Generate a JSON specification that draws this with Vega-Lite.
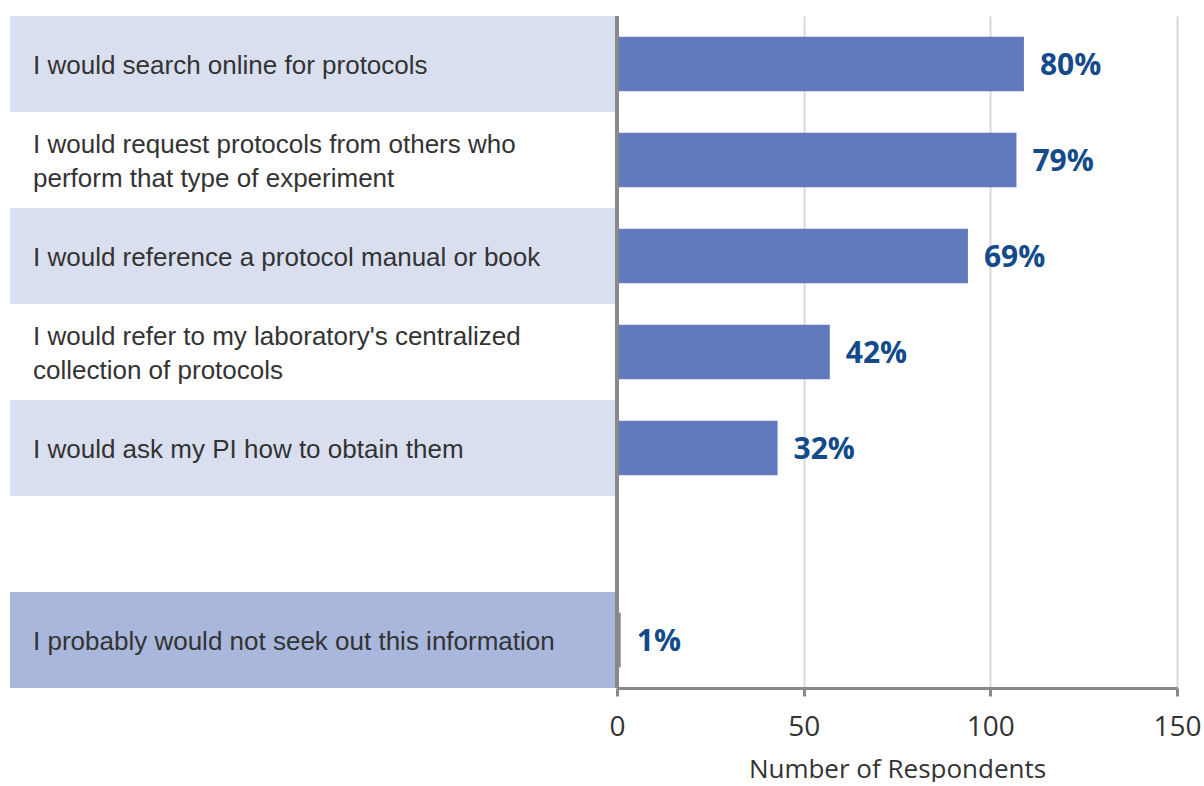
{
  "$schema": "https://vega.github.io/schema/vega-lite/v6.json",
  "padding": {"left": 10, "top": 14, "right": 0, "bottom": 0},
  "background": "white",
  "config": {"view": {"stroke": null}},
  "spacing": -7,
  "datasets": {
    "rows": [
      {"row": 1, "label": "I would search online for protocols", "n": 109, "pct": 0.80},
      {"row": 2, "label": "I would request protocols from others who\nperform that type of experiment", "n": 107, "pct": 0.79},
      {"row": 3, "label": "I would reference a protocol manual or book", "n": 94, "pct": 0.69},
      {"row": 4, "label": "I would refer to my laboratory's centralized\ncollection of protocols", "n": 57, "pct": 0.42},
      {"row": 5, "label": "I would ask my PI how to obtain them", "n": 43, "pct": 0.32},
      {"row": 7, "label": "I probably would not seek out this information", "n": 1, "pct": 0.01}
    ]
  },
  "hconcat": [
    {
      "width": 605,
      "height": 672,
      "data": {"name": "rows"},
      "layer": [
        {
          "transform": [{"filter": "datum.row == 1 || datum.row == 3 || datum.row == 5"}],
          "mark": {"type": "rect", "color": "#d9dfee"},
          "encoding": {
            "y": {"field": "row", "type": "ordinal", "scale": {"domain": [1, 2, 3, 4, 5, 6, 7], "paddingInner": 0, "paddingOuter": 0}, "axis": null},
            "x": {"datum": 0, "type": "quantitative", "scale": {"domain": [0, 1], "nice": false}, "axis": null},
            "x2": {"datum": 1}
          }
        },
        {
          "transform": [{"filter": "datum.row == 7"}],
          "mark": {"type": "rect", "color": "#a8b7db"},
          "encoding": {
            "y": {"field": "row", "type": "ordinal", "scale": {"domain": [1, 2, 3, 4, 5, 6, 7], "paddingInner": 0, "paddingOuter": 0}, "axis": null},
            "x": {"datum": 0, "type": "quantitative", "scale": {"domain": [0, 1], "nice": false}, "axis": null},
            "x2": {"datum": 1}
          }
        },
        {
          "transform": [{"filter": "datum.row != 2 && datum.row != 4"}],
          "mark": {"type": "text", "align": "left", "baseline": "middle", "dx": 23, "dy": 2, "font": "Liberation Sans", "fontSize": 26, "color": "#333333"},
          "encoding": {
            "y": {"field": "row", "type": "ordinal", "scale": {"domain": [1, 2, 3, 4, 5, 6, 7], "paddingInner": 0, "paddingOuter": 0}, "axis": null},
            "x": {"datum": 0, "type": "quantitative", "scale": {"domain": [0, 1], "nice": false}, "axis": null},
            "text": {"field": "label"}
          }
        },
        {
          "transform": [{"filter": "datum.row == 2 || datum.row == 4"}],
          "mark": {"type": "text", "align": "left", "baseline": "middle", "dx": 23, "dy": -15, "font": "Liberation Sans", "fontSize": 26, "color": "#333333", "lineBreak": "\n", "lineHeight": 34},
          "encoding": {
            "y": {"field": "row", "type": "ordinal", "scale": {"domain": [1, 2, 3, 4, 5, 6, 7], "paddingInner": 0, "paddingOuter": 0}, "axis": null},
            "x": {"datum": 0, "type": "quantitative", "scale": {"domain": [0, 1], "nice": false}, "axis": null},
            "text": {"field": "label"}
          }
        }
      ]
    },
    {
      "width": 560,
      "height": 672,
      "data": {"name": "rows"},
      "layer": [
        {
          "mark": {"type": "bar", "height": {"band": 0.57}},
          "encoding": {
            "y": {"field": "row", "type": "ordinal", "scale": {"domain": [1, 2, 3, 4, 5, 6, 7], "paddingInner": 0, "paddingOuter": 0}, "axis": null},
            "x": {
              "field": "n", "type": "quantitative", "scale": {"domain": [0, 150], "nice": false},
              "axis": {
                "values": [0, 50, 100, 150], "grid": true, "gridColor": "#d9d9d9", "gridWidth": 2,
                "domainColor": "#888888", "domainWidth": 3, "tickColor": "#888888", "tickWidth": 3, "tickSize": 8,
                "labelFont": "Open Sans", "labelFontSize": 28, "labelColor": "#333333", "labelPadding": 17, "labelFlush": false,
                "title": "Number of Respondents", "titleFont": "Open Sans", "titleFontSize": 26, "titleFontWeight": "normal", "titleColor": "#333333", "titlePadding": 15
              }
            },
            "color": {"condition": {"test": "datum.row == 7", "value": "#888888"}, "value": "#5f7bbe"}
          }
        },
        {
          "mark": {"type": "text", "align": "left", "baseline": "middle", "dx": 16, "dy": 2, "font": "Open Sans", "fontWeight": "bold", "fontSize": 30, "color": "#124a8a"},
          "encoding": {
            "y": {"field": "row", "type": "ordinal", "scale": {"domain": [1, 2, 3, 4, 5, 6, 7], "paddingInner": 0, "paddingOuter": 0}, "axis": null},
            "x": {"field": "n", "type": "quantitative"},
            "text": {"field": "pct", "type": "quantitative", "format": ".0%"}
          }
        },
        {
          "mark": {"type": "rule", "color": "#888888", "strokeWidth": 3},
          "encoding": {"x": {"datum": 0, "type": "quantitative"}}
        }
      ]
    }
  ]
}
